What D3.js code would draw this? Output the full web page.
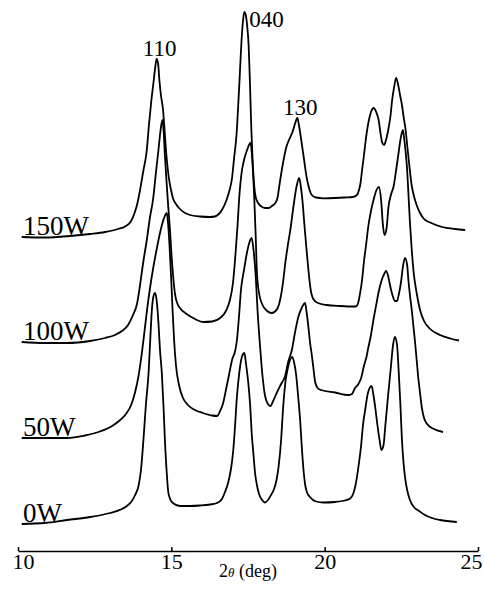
<!DOCTYPE html>
<html>
<head>
<meta charset="utf-8">
<script src="https://cdn.jsdelivr.net/npm/d3@7"></script>
<style>
    body { margin: 0; background: #fff; }
    svg { display: block; }
    .curve { fill: none; stroke: #000; stroke-width: 1.8; stroke-linejoin: round; }
    .axis path, .axis line { stroke: #000; stroke-width: 1.5; }
    text { font-family: "Liberation Serif", "DejaVu Serif", serif; fill: #000; }
</style>
</head>
<body>
<svg class="chart"></svg>
<script>
// series names and vertical offsets (a.u.) of the stacked patterns
var powers = ["0W", "50W", "100W", "150W"];
var offsets = [0, 86, 182, 287];

// [2theta (deg), intensity (a.u.)]
var pattern0W = [[10.12,0],[10.88,1],[11.60,4],[12.35,7],[13.00,11],[13.39,15],[13.55,18],[13.69,22],[13.82,29],[13.93,38],[14.01,54],[14.09,84],[14.17,119],[14.26,152],[14.32,189],[14.37,216],[14.42,228],[14.47,231],[14.52,224],[14.58,201],[14.63,174],[14.69,151],[14.75,114],[14.79,84],[14.84,56],[14.90,32],[14.96,25],[15.05,21],[15.28,18],[15.61,18],[15.94,18.5],[16.26,19.5],[16.49,21],[16.65,25],[16.75,32],[16.85,41],[16.95,56],[17.02,74],[17.08,99],[17.13,124],[17.19,144],[17.24,157],[17.30,167],[17.38,171],[17.44,159],[17.51,141],[17.57,119],[17.62,91],[17.68,69],[17.73,51],[17.79,39],[17.86,30],[17.96,24],[18.05,21.5],[18.15,24],[18.25,29],[18.35,35],[18.43,44],[18.50,58],[18.58,84],[18.64,114],[18.72,142],[18.80,156],[18.87,164],[18.94,167],[19.00,162],[19.07,149],[19.14,126],[19.20,104],[19.25,79],[19.31,54],[19.36,40],[19.42,32],[19.52,27],[19.72,22.5],[19.95,21.5],[20.34,22],[20.66,23.5],[20.83,25.5],[20.94,31],[21.02,41],[21.10,57],[21.19,79],[21.25,99],[21.33,116],[21.41,131],[21.53,138],[21.59,129],[21.66,114],[21.72,99],[21.79,84],[21.85,74],[21.92,79],[21.98,99],[22.07,129],[22.15,154],[22.23,179],[22.29,187],[22.36,179],[22.42,149],[22.47,119],[22.52,84],[22.57,62],[22.62,47],[22.69,34],[22.78,24],[22.91,17],[23.08,13],[23.27,9],[23.50,6],[23.76,4],[24.31,2]];

var pattern50W = [[10.12,0],[10.88,0],[11.60,0],[12.18,2.5],[12.67,6.5],[13.07,12],[13.33,18],[13.52,24],[13.69,33],[13.82,46],[13.93,62],[14.03,83],[14.13,108],[14.22,131],[14.32,153],[14.42,172],[14.53,190],[14.63,205],[14.73,217],[14.85,225],[14.89,216],[14.94,193],[14.99,163],[15.04,128],[15.09,98],[15.15,73],[15.25,53],[15.38,40],[15.54,33],[15.77,28],[16.03,25],[16.33,22.5],[16.49,22],[16.59,27],[16.69,35],[16.78,48],[16.88,63],[16.98,78],[17.08,87],[17.14,98],[17.21,123],[17.27,148],[17.37,168],[17.47,186],[17.55,196],[17.62,200],[17.68,188],[17.75,163],[17.81,128],[17.89,93],[17.97,63],[18.05,43],[18.15,34],[18.23,32],[18.32,37],[18.45,46],[18.58,54],[18.71,62],[18.81,76],[18.93,88],[19.03,105],[19.14,121],[19.25,130],[19.36,135],[19.41,126],[19.47,111],[19.52,96],[19.58,83],[19.64,68],[19.69,56],[19.77,50],[19.88,48],[20.34,45.5],[20.79,43],[20.89,44],[20.99,50],[21.09,53.5],[21.19,60],[21.28,72],[21.37,82],[21.42,90],[21.51,103],[21.59,118],[21.68,133],[21.76,146],[21.86,158],[21.94,164],[22.00,167],[22.07,162],[22.13,153],[22.21,143],[22.29,137],[22.36,137],[22.42,144],[22.49,156],[22.55,171],[22.62,180],[22.69,173],[22.73,158],[22.78,143],[22.84,128],[22.90,110],[22.95,95],[23.00,78],[23.05,61],[23.11,45],[23.17,30],[23.24,20],[23.34,14],[23.53,9.5],[23.86,6]];

var pattern100W = [[10.12,0],[10.88,-1],[11.60,-1],[12.35,1],[12.84,4],[13.16,7],[13.39,11],[13.59,17],[13.75,27],[13.88,38],[13.98,57],[14.08,79],[14.20,102],[14.30,124],[14.41,144],[14.50,170],[14.58,192],[14.65,212],[14.71,222],[14.75,210],[14.79,187],[14.84,162],[14.90,135],[14.96,110],[15.01,85],[15.07,62],[15.12,48],[15.19,39],[15.28,34],[15.50,28],[15.77,23],[16.04,20],[16.33,20.5],[16.59,24],[16.78,31],[16.91,42],[17.01,59],[17.09,87],[17.16,117],[17.22,147],[17.29,169],[17.37,182],[17.47,192],[17.58,199],[17.65,177],[17.70,147],[17.75,107],[17.79,70],[17.86,49],[17.96,38],[18.12,31],[18.28,29],[18.45,33],[18.56,44],[18.64,59],[18.72,80],[18.80,97],[18.89,114],[18.98,135],[19.08,155],[19.17,164],[19.22,156],[19.28,140],[19.34,117],[19.41,92],[19.47,72],[19.54,53],[19.63,43],[19.78,39],[20.07,37],[20.50,36],[21.02,35.5],[21.10,40],[21.15,48],[21.22,62],[21.28,80],[21.35,97],[21.42,115],[21.51,131],[21.61,144],[21.69,152],[21.77,155],[21.84,142],[21.90,117],[21.95,107],[22.02,114],[22.08,135],[22.16,147],[22.25,156],[22.33,172],[22.40,187],[22.47,202],[22.55,212],[22.59,204],[22.64,190],[22.69,172],[22.73,149],[22.78,120],[22.84,92],[22.90,70],[23.00,49],[23.11,32],[23.24,21],[23.44,13],[23.76,7],[24.09,3.5],[24.38,1.5]];

var pattern150W = [[10.12,0],[10.88,-0.5],[11.70,1],[12.35,3],[12.84,5],[13.26,8],[13.52,11],[13.69,16],[13.80,24],[13.88,32],[13.98,47],[14.08,65],[14.20,87],[14.27,112],[14.35,137],[14.42,155],[14.48,171],[14.52,178],[14.57,173],[14.61,157],[14.66,142],[14.73,127],[14.78,107],[14.83,85],[14.88,69],[14.92,59],[14.99,47],[15.05,39],[15.15,33],[15.28,28],[15.45,24],[15.61,22],[15.94,20.5],[16.26,20],[16.42,20.5],[16.55,23],[16.65,27],[16.80,37],[16.90,47],[16.98,59],[17.04,77],[17.13,104],[17.19,137],[17.24,167],[17.29,197],[17.34,217],[17.38,225],[17.42,223],[17.47,212],[17.52,192],[17.55,167],[17.58,137],[17.61,107],[17.65,77],[17.70,52],[17.75,40],[17.83,34],[17.96,30],[18.06,29],[18.18,29],[18.28,31],[18.39,34],[18.46,39],[18.54,55],[18.66,77],[18.76,91],[18.85,98],[18.95,105],[19.03,113],[19.11,119],[19.16,112],[19.25,94],[19.33,77],[19.41,60],[19.49,49],[19.58,42],[19.72,39.5],[19.95,38.7],[20.34,39],[20.66,39.5],[20.92,40],[21.05,42],[21.12,47],[21.17,54],[21.22,67],[21.27,79],[21.32,92],[21.37,104],[21.43,115],[21.51,125],[21.60,129],[21.68,125],[21.76,117],[21.82,104],[21.87,95],[21.94,92],[22.00,97],[22.09,110],[22.15,122],[22.20,137],[22.26,149],[22.33,159],[22.39,153],[22.47,140],[22.52,132],[22.57,121],[22.64,107],[22.70,89],[22.77,69],[22.83,53],[22.91,41],[23.01,31],[23.11,24],[23.24,18],[23.44,14.5],[23.83,10],[24.25,8],[24.58,7]];

var patterns = [pattern0W, pattern50W, pattern100W, pattern150W];

// reflection labels on the top pattern
var peakNames = ["110", "040", "130"];
var peakTheta = [14.52, 17.38, 19.11];

var xTicks = [10, 15, 20, 25];

var width = 484, height = 591;
var axisY = 551;

var svg = d3.select(".chart")
        .attr("width", width)
        .attr("height", height);

var xRange = d3.scaleLinear()
        .domain([10, 25])
        .range([18, 478]);

var yRange = d3.scaleLinear()
        .domain([0, 524])
        .range([524, 0]);

var line = d3.line()
        .x(function (d) { return xRange(d[0]); })
        .y(function (d) { return yRange(d[1]); })
        .curve(d3.curveMonotoneX);

// stacked patterns
svg.selectAll(".curve")
        .data(patterns)
        .enter().append("path")
        .attr("class", "curve")
        .attr("d", function (p, i) {
            return line(p.map(function (d) { return [d[0], d[1] + offsets[i]]; }));
        });

// power labels sit on the start of each pattern
svg.selectAll(".powerLabel")
        .data(powers)
        .enter().append("text")
        .attr("class", "powerLabel")
        .attr("x", xRange(10) + 5)
        .attr("y", function (d, i) { return yRange(offsets[i]) - 2; })
        .style("font-size", "27px")
        .text(function (d) { return d; });

// hkl labels above the 150W peaks
var topPattern = patterns[3], topOffset = offsets[3];
function peakHeight(t) {
    var best = 0;
    topPattern.forEach(function (d) {
        if (Math.abs(d[0] - t) < 0.05 && d[1] > best) best = d[1];
    });
    return best + topOffset;
}
var labelDx = [3, 5, 3];
var labelDy = [-3, 15, -3];
var labelAnchor = ["middle", "start", "middle"];
svg.selectAll(".peakLabel")
        .data(peakNames)
        .enter().append("text")
        .attr("class", "peakLabel")
        .attr("x", function (d, i) { return xRange(peakTheta[i]) + labelDx[i]; })
        .attr("y", function (d, i) { return yRange(peakHeight(peakTheta[i])) + labelDy[i]; })
        .attr("text-anchor", function (d, i) { return labelAnchor[i]; })
        .style("font-size", "23px")
        .text(function (d) { return d; });

// 2theta axis
var xAxis = svg.append("g")
        .attr("class", "axis")
        .attr("transform", "translate(0," + axisY + ")")
        .call(d3.axisBottom(xRange)
                .tickValues(xTicks)
                .tickSizeInner(-4)
                .tickSizeOuter(0)
                .tickPadding(2));
// end labels are pulled in a little, as in the original print
xAxis.selectAll("text")
        .style("font-family", "'Liberation Serif', serif")
        .style("font-size", "22px")
        .attr("fill", "#000")
        .attr("dx", function (d) { return d === 10 ? 5 : (d === 25 ? -7 : 0); });

var title = svg.append("text")
        .attr("x", xRange(17.5))
        .attr("y", 577)
        .attr("text-anchor", "middle")
        .style("font-size", "18px");
title.append("tspan").text("2");
title.append("tspan").style("font-style", "italic").style("font-size", "13px").text("\u03b8");
title.append("tspan").text(" (deg)");
</script>
</body>
</html>
